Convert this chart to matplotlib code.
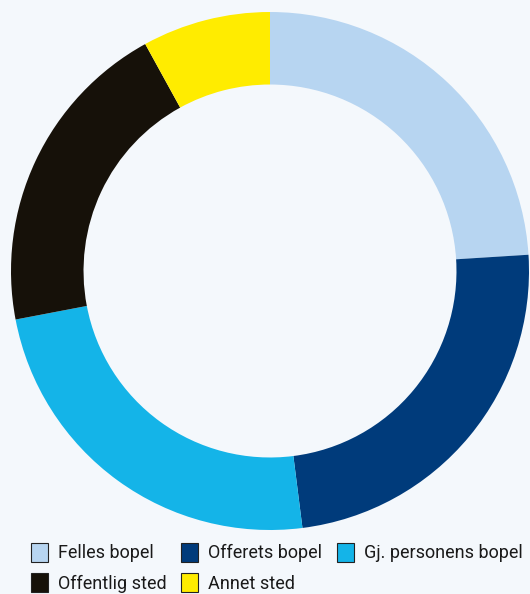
import matplotlib
matplotlib.use('Agg')
import matplotlib.pyplot as plt
from matplotlib.patches import Patch

# Andeler per åsted (prosent), lest av figuren
steder = ['Felles bopel', 'Offerets bopel', 'Gj. personens bopel', 'Offentlig sted', 'Annet sted']
andeler = [24, 24, 24, 20, 8]
farger = ['#b7d5f1', '#003b7b', '#14b4e8', '#161109', '#ffec00']

bakgrunn = '#f4f8fc'
plt.rcParams['font.family'] = ['Roboto', 'DejaVu Sans']

fig = plt.figure(figsize=(5.30, 5.94), dpi=100, facecolor=bakgrunn)
ax = fig.add_axes([11 / 530, 64 / 594, 518 / 530, 518 / 594])
ax.set_facecolor(bakgrunn)

ax.pie(andeler, colors=farger, startangle=90, counterclock=False,
       radius=1, wedgeprops=dict(width=0.28, linewidth=0))
ax.set_xlim(-1, 1)
ax.set_ylim(-1, 1)
ax.set_aspect('equal')
ax.axis('off')

# Tegnforklaring: tre kolonner, fylles rad for rad
handles = [Patch(facecolor=f, edgecolor='#222222', linewidth=0.8) for f in farger]
rekkefolge = [0, 3, 1, 4, 2]
fig.legend([handles[i] for i in rekkefolge], [steder[i] for i in rekkefolge],
           ncol=3, loc='upper left', bbox_to_anchor=(31 / 530, 1 - 543 / 594),
           frameon=False, fontsize=13, handlelength=0.95, handleheight=1.2,
           handletextpad=0.55, columnspacing=0.8, labelspacing=0.6,
           labelcolor='#1a1a1a', borderaxespad=0, borderpad=0)

fig.savefig('out.png', dpi=100, facecolor=bakgrunn)
